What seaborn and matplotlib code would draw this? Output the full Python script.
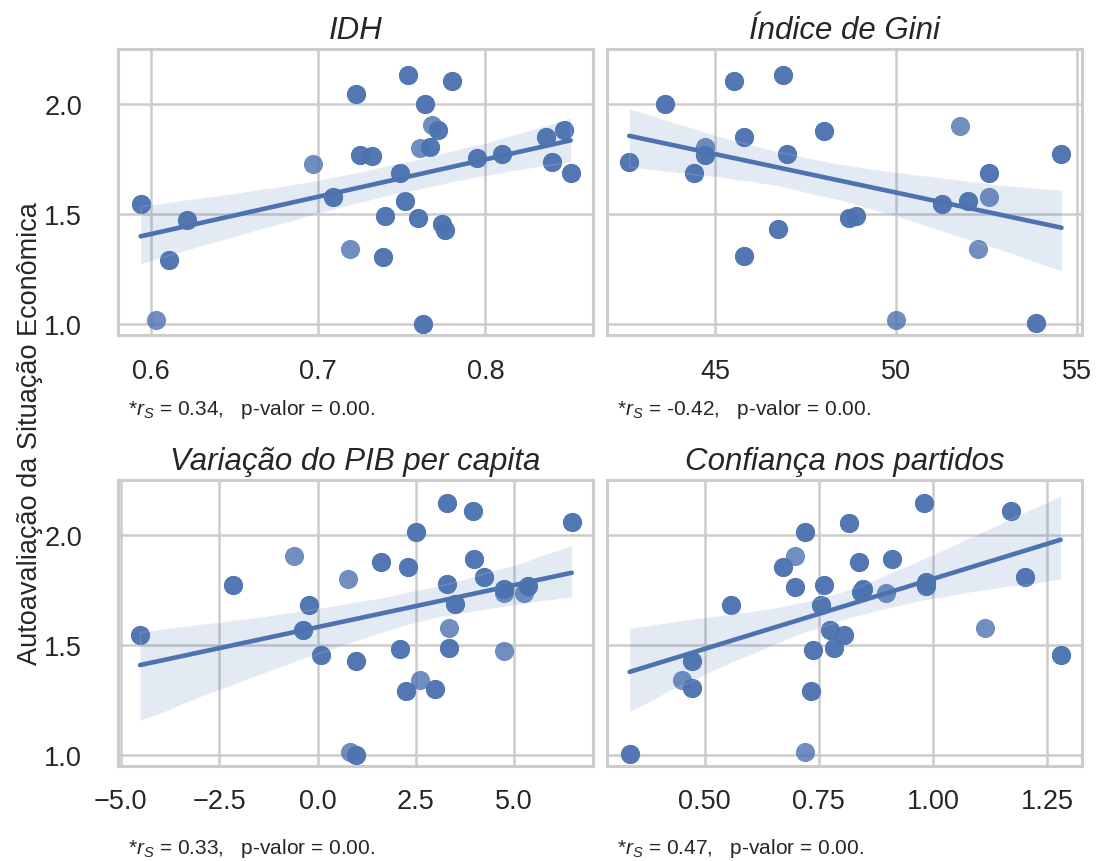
import matplotlib
matplotlib.use("Agg")
import matplotlib.pyplot as plt
import numpy as np
import pandas as pd
import seaborn as sns

# Índice de Desenvolvimento Humano vs. autoavaliação
# (*_n: number of observations sharing the same coordinates)
idh_x = [0.594, 0.622, 0.611, 0.603, 0.697, 0.709, 0.723, 0.725, 0.732, 0.719,
         0.740, 0.739, 0.754, 0.749, 0.752, 0.760, 0.764, 0.763, 0.768, 0.772,
         0.761, 0.767, 0.780, 0.774, 0.776, 0.795, 0.810, 0.836, 0.847, 0.840,
         0.851]
idh_y = [1.545, 1.473, 1.289, 1.017, 1.726, 1.575, 2.045, 1.770, 1.764, 1.342,
         1.491, 1.306, 2.133, 1.687, 1.560, 1.480, 2.000, 1.000, 1.905, 1.880,
         1.800, 1.804, 2.105, 1.455, 1.428, 1.755, 1.774, 1.852, 1.880, 1.736,
         1.684]
idh_n = [2, 2, 2, 1, 1, 2, 2, 2, 2, 1,
         2, 2, 2, 2, 2, 2, 2, 2, 1, 2,
         1, 2, 2, 2, 2, 2, 2, 2, 2, 2,
         2]

# Índice de Gini
gini_x = [42.62, 43.60, 44.40, 44.72, 44.72, 45.53, 45.79, 45.79, 46.73, 46.87,
          46.99, 48.00, 48.70, 48.90, 49.99, 51.28, 51.77, 51.98, 52.26, 52.58,
          52.58, 53.87, 54.57]
gini_y = [1.736, 2.000, 1.684, 1.804, 1.767, 2.105, 1.849, 1.307, 1.431, 2.131,
          1.771, 1.877, 1.480, 1.491, 1.017, 1.545, 1.902, 1.559, 1.342, 1.684,
          1.578, 1.003, 1.771]
gini_n = [2, 2, 2, 1, 2, 2, 2, 2, 2, 2,
          2, 2, 2, 2, 1, 2, 1, 2, 1, 2,
          1, 2, 2]

# Variação do PIB per capita
pib_x = [-4.51, -2.14, -0.59, -0.21, -0.36, 0.08, 0.78, 0.97, 0.82, 0.97,
         1.61, 2.10, 2.31, 2.50, 2.25, 2.60, 2.99, 3.29, 3.29, 3.49,
         3.35, 3.35, 3.94, 3.98, 4.24, 4.73, 4.75, 4.73, 5.25, 5.36,
         6.46]
pib_y = [1.543, 1.772, 1.904, 1.683, 1.566, 1.455, 1.799, 1.426, 1.011, 1.000,
         1.878, 1.479, 1.852, 2.012, 1.292, 1.341, 1.300, 2.145, 1.775, 1.685,
         1.577, 1.487, 2.110, 1.890, 1.810, 1.755, 1.735, 1.470, 1.734, 1.767,
         2.058]
pib_n = [2, 2, 1, 2, 2, 2, 1, 2, 1, 2,
         2, 2, 2, 2, 2, 1, 2, 2, 2, 2,
         1, 2, 2, 2, 2, 2, 1, 1, 1, 2,
         2]

# Confiança nos partidos
conf_x = [0.336, 0.451, 0.473, 0.473, 0.558, 0.671, 0.698, 0.698, 0.719, 0.719,
          0.732, 0.737, 0.761, 0.755, 0.774, 0.783, 0.805, 0.816, 0.838, 0.846,
          0.843, 0.896, 0.911, 0.981, 0.984, 0.984, 1.114, 1.170, 1.202, 1.279]
conf_y = [1.003, 1.341, 1.426, 1.303, 1.683, 1.852, 1.904, 1.764, 2.012, 1.011,
          1.292, 1.475, 1.772, 1.683, 1.569, 1.487, 1.543, 2.056, 1.878, 1.753,
          1.738, 1.734, 1.889, 2.145, 1.787, 1.769, 1.577, 2.110, 1.810, 1.455]
conf_n = [2, 1, 2, 2, 2, 2, 1, 2, 2, 1,
          2, 2, 2, 2, 2, 2, 2, 2, 2, 2,
          2, 1, 2, 2, 2, 2, 1, 2, 2, 2]

titles = ["IDH", "Índice de Gini", "Variação do PIB per capita",
          "Confiança nos partidos"]
rs_values = ["0.34", "-0.42", "0.33", "0.47"]
p_values = ["0.00", "0.00", "0.00", "0.00"]
x_ticks = [[0.6, 0.7, 0.8], [45, 50, 55],
           [-5.0, -2.5, 0.0, 2.5, 5.0], [0.50, 0.75, 1.00, 1.25]]
y_ticks = [1.0, 1.5, 2.0]
y_label = "Autoavaliação da Situação Econômica"

sns.set_theme(style="whitegrid")
plt.rcParams.update({
    "font.family": ["Liberation Sans", "DejaVu Sans"],
    "mathtext.fontset": "custom",
    "mathtext.rm": "Liberation Sans",
    "mathtext.it": "Liberation Sans:italic",
    "axes.edgecolor": ".8",
    "axes.linewidth": 2.2,
    "grid.color": ".8",
    "grid.linewidth": 1.8,
    "xtick.major.size": 0,
    "ytick.major.size": 0,
})

fig, axes = plt.subplots(2, 2, figsize=(10.98, 8.62), dpi=100, sharey=True)
fig.subplots_adjust(left=0.1075, right=0.9855, bottom=0.110, top=0.942,
                    wspace=0.030, hspace=0.505)

series = [(idh_x, idh_y, idh_n), (gini_x, gini_y, gini_n),
          (pib_x, pib_y, pib_n), (conf_x, conf_y, conf_n)]
x_limits = [(0.5805, 0.8643), (42.01, 55.14), (-5.07, 7.0), (0.287, 1.326)]
note_y = [0.5244, 0.5244, 0.0151, 0.0151]

for i, ax in enumerate(axes.flat):
    xs, ys, ns = series[i]
    df = pd.DataFrame({"x": np.repeat(xs, ns), "y": np.repeat(ys, ns)})
    sns.regplot(data=df, x="x", y="y", ax=ax, color="#4C72B0", seed=7,
                scatter_kws={"s": 190, "alpha": 0.8, "linewidths": 0},
                line_kws={"lw": 3.3})
    ax.set_title(titles[i], fontstyle="italic", fontsize=22.5, pad=8)
    ax.set_xlabel("")
    ax.set_ylabel("")
    ax.set_xticks(x_ticks[i])
    ax.set_xlim(*x_limits[i])
    ax.set_ylim(0.948, 2.25)
    ax.set_yticks(y_ticks)
    ax.tick_params(axis="x", labelsize=19.5, pad=16)
    ax.tick_params(axis="y", labelsize=19.5, pad=26)
    pos = ax.get_position()
    fig.text(pos.x0 + 0.009, note_y[i],
             f"*$r_S$ = {rs_values[i]},   p-valor = {p_values[i]}.",
             fontsize=15, va="center", ha="left", color=".15")

fig.text(0.0273, 0.497, y_label, rotation=90, va="center", ha="center",
         fontsize=19.5, color=".15")

fig.savefig("out.png", dpi=100)
